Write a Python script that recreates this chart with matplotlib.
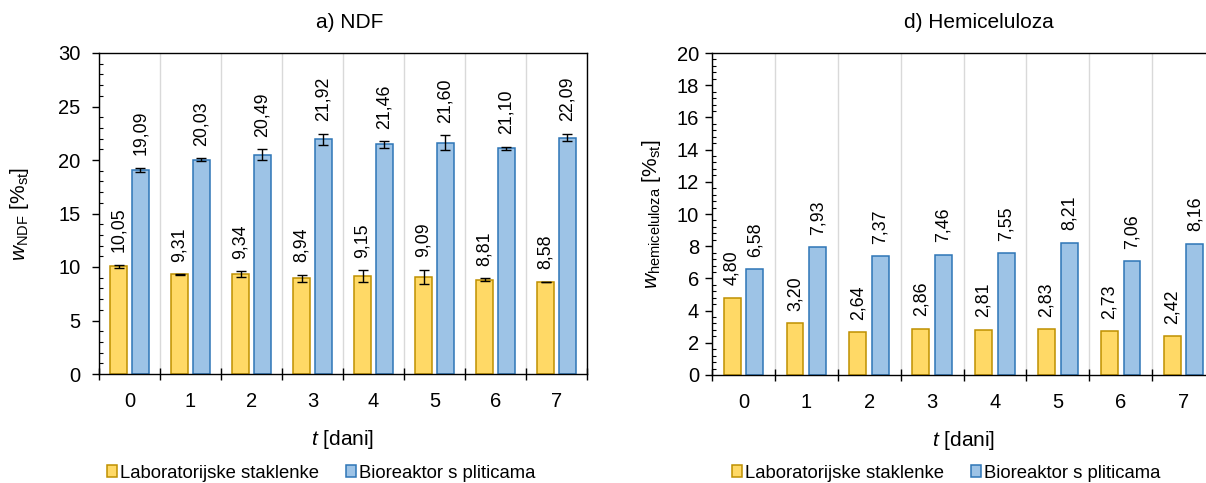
import matplotlib
matplotlib.use("Agg")
import matplotlib.pyplot as plt
from matplotlib.patches import Patch
from matplotlib.ticker import MultipleLocator, FixedLocator
import numpy as np

plt.rcParams['font.family'] = ['Liberation Sans', 'DejaVu Sans']
plt.rcParams['mathtext.fontset'] = 'custom'
plt.rcParams['mathtext.rm'] = 'Liberation Sans'
plt.rcParams['mathtext.it'] = 'Liberation Sans:italic'

days = ['0', '1', '2', '3', '4', '5', '6', '7']
series_names = ['Laboratorijske staklenke', 'Bioreaktor s pliticama']

ndf_lab = [10.05, 9.31, 9.34, 8.94, 9.15, 9.09, 8.81, 8.58]
ndf_lab_err = [0.15, 0.03, 0.25, 0.35, 0.55, 0.65, 0.15, 0.02]
ndf_bio = [19.09, 20.03, 20.49, 21.92, 21.46, 21.60, 21.10, 22.09]
ndf_bio_err = [0.2, 0.12, 0.5, 0.55, 0.3, 0.7, 0.12, 0.35]

hem_lab = [4.80, 3.20, 2.64, 2.86, 2.81, 2.83, 2.73, 2.42]
hem_bio = [6.58, 7.93, 7.37, 7.46, 7.55, 8.21, 7.06, 8.16]

lab_face, lab_edge = '#FFD966', '#BF9000'
bio_face, bio_edge = '#9DC3E6', '#2E75B6'

W, H = 1206, 483
fig = plt.figure(figsize=(W / 100, H / 100), dpi=100)

def px_axes(x0, x1, ytop, ybot):
    return fig.add_axes([x0 / W, (H - ybot) / H, (x1 - x0) / W, (ybot - ytop) / H])

ax1 = px_axes(99, 587, 53, 374)
ax2 = px_axes(712, 1215, 53, 375)

def fmt(v):
    return f"{v:.2f}".replace('.', ',')

def draw(ax, lab, bio, ymax, ymaj, ymin, ylabel, ypad, lab_err=None, bio_err=None):
    x = np.arange(len(days))
    bw = 0.27
    off = 0.18
    ax.set_axisbelow(True)
    kw = dict(linewidth=1.1)
    ax.bar(x - off, lab, bw, color=lab_face, edgecolor=lab_edge, zorder=2, **kw)
    ax.bar(x + off, bio, bw, color=bio_face, edgecolor=bio_edge, zorder=2, **kw)
    if lab_err is not None:
        ax.errorbar(x - off, lab, yerr=lab_err, fmt='none', ecolor='black',
                    elinewidth=1.0, capsize=3.6, capthick=1.0, zorder=3)
        ax.errorbar(x + off, bio, yerr=bio_err, fmt='none', ecolor='black',
                    elinewidth=1.0, capsize=3.6, capthick=1.0, zorder=3)
    le = lab_err if lab_err is not None else [0] * len(lab)
    be = bio_err if bio_err is not None else [0] * len(bio)
    for xi, v, e in zip(x, lab, le):
        ax.annotate(fmt(v), (xi - off, v + e), xytext=(0, 9), textcoords='offset points',
                    rotation=90, ha='center', va='bottom', fontsize=12.8)
    for xi, v, e in zip(x, bio, be):
        ax.annotate(fmt(v), (xi + off, v + e), xytext=(0, 9), textcoords='offset points',
                    rotation=90, ha='center', va='bottom', fontsize=12.8)
    ax.set_xlim(-0.5, len(days) - 0.5)
    ax.set_ylim(0, ymax)
    ax.xaxis.set_major_locator(FixedLocator(x))
    ax.set_xticklabels(days)
    ax.xaxis.set_minor_locator(FixedLocator(np.arange(len(days) + 1) - 0.5))
    ax.tick_params(axis='x', which='major', length=0, pad=13, labelsize=14.5)
    ax.tick_params(axis='x', which='minor', direction='inout', length=8, width=1.0)
    ax.grid(True, axis='x', which='minor', color='#D9D9D9', linewidth=1.0, zorder=0)
    ax.yaxis.set_major_locator(MultipleLocator(ymaj))
    ax.yaxis.set_minor_locator(MultipleLocator(ymin))
    ax.tick_params(axis='y', which='major', direction='out', length=5, width=1.0,
                   pad=ypad, labelsize=14.5)
    ax.tick_params(axis='y', which='minor', direction='in', length=3, width=0.8)
    for s in ax.spines.values():
        s.set_linewidth(1.0)
        s.set_color('black')
    ax.set_xlabel('$t$ [dani]', fontsize=15, labelpad=12)
    ax.set_ylabel(ylabel, fontsize=15)

draw(ax1, ndf_lab, ndf_bio, 30, 5, 1, r'$w_{\mathrm{NDF}}$ [%$_{\mathrm{st}}$]', 8.5,
     ndf_lab_err, ndf_bio_err)
draw(ax2, hem_lab, hem_bio, 20, 2, 0.4, r'$w_{\mathrm{hemiceluloza}}$ [%$_{\mathrm{st}}$]', 4.3)

ax1.yaxis.set_label_coords((31 - 99) / 488, 0.5)
ax2.yaxis.set_label_coords((663 - 712) / 503, 0.5)

fig.text(350 / W, 1 - 23 / H, 'a) NDF', ha='center', va='center', fontsize=15)
fig.text(979 / W, 1 - 23 / H, 'd) Hemiceluloza', ha='center', va='center', fontsize=15)

handles = [Patch(facecolor=lab_face, edgecolor=lab_edge, linewidth=1.1),
           Patch(facecolor=bio_face, edgecolor=bio_edge, linewidth=1.1)]
for cx in (321, 946):
    fig.legend(handles, series_names, loc='center', bbox_to_anchor=(cx / W, 1 - 473 / H),
               ncol=2, frameon=False, fontsize=13.3, handlelength=0.55, handleheight=0.55,
               handletextpad=0.16, columnspacing=1.45, borderpad=0)

fig.savefig('out.png', dpi=100)
